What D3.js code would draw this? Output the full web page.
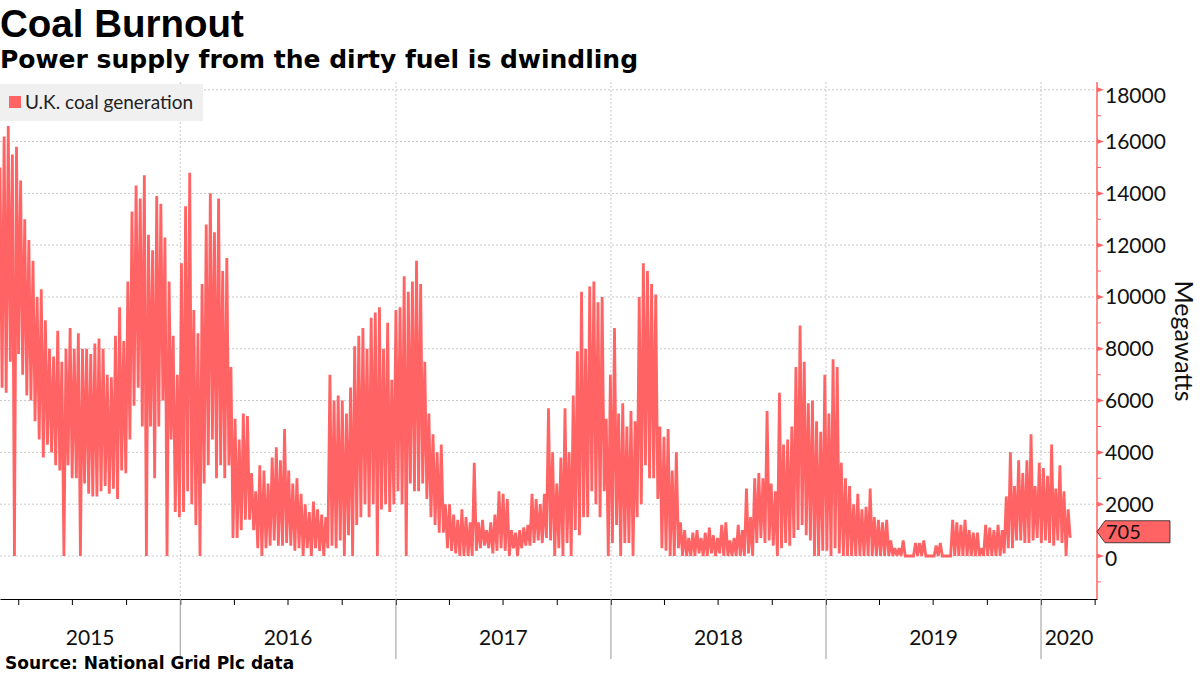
<!DOCTYPE html>
<html>
<head>
<meta charset="utf-8">
<script src="https://cdn.jsdelivr.net/npm/d3@7"></script>
<style>
  body { margin: 0; background: #fff; }
  svg { display: block; }
</style>
</head>
<body>
<svg id="chart" width="1200" height="675"></svg>
<script>
/* Coal Burnout - U.K. coal generation, weekly highs and lows */

// first week of the series, one high and one low per week after that
const startDate = new Date(2015, 2, 1);

const weekHigh = [
  15000, 16200, 16600, 15500, 15800, 14500, 13000, 12200, 11400, 10000,
  10300, 9100, 8000, 7700, 8700, 7500, 8000, 8800, 8000, 8600,
  8000, 8000, 7800, 8200, 8400, 8000, 7000, 6900, 8500, 9600,
  8300, 10600, 13300, 14300, 13800, 14700, 12400, 11800, 13900, 13600,
  12300, 10600, 8500, 7000, 11300, 13500, 14800, 9500, 8600, 10500,
  12800, 14000, 12500, 13800, 11000, 11500, 7300, 5300, 4500, 5500,
  5400, 3200, 2500, 3500, 3300, 2800, 3800, 4200, 3700, 4900,
  3300, 2800, 3000, 2400, 2000, 1700, 2100, 1800, 1600, 1500,
  7000, 6000, 6200, 6000, 5500, 6500, 8100, 8500, 8800, 8000,
  9200, 9400, 9600, 8000, 9000, 6800, 9500, 9600, 10800, 10200,
  10600, 11400, 10500, 7500, 5500, 4700, 4000, 4300, 2000, 2000,
  1600, 1400, 1800, 1500, 1300, 3600, 1300, 1400, 1000, 1300,
  1600, 2500, 2400, 2200, 1000, 900, 1000, 1100, 1200, 2400,
  2200, 2000, 2400, 5700, 4000, 2800, 3800, 5700, 4000, 6200,
  7900, 10200, 8000, 10400, 10600, 9800, 10000, 5300, 7000, 8800,
  5500, 5900, 5000, 5600, 5200, 10000, 11300, 11000, 10500, 10100,
  5000, 4600, 4900, 3300, 4000, 1300, 1000, 700, 900, 1000,
  700, 900, 1100, 800, 700, 1200, 1300, 600, 700, 1200,
  1000, 2600, 1500, 3000, 3200, 3000, 5600, 2800, 2500, 6300,
  4300, 4500, 5000, 7300, 8900, 7500, 5900, 6000, 5200, 4800,
  7000, 5500, 7600, 7300, 3600, 3000, 2700, 2000, 2400, 1800,
  1900, 2600, 1500, 1400, 1300, 1400, 600, 300, 300, 600,
  0, 0, 500, 500, 600, 0, 0, 400, 500, 0,
  0, 1400, 1300, 1200, 1400, 1000, 900, 900, 300, 1200,
  1100, 1000, 1200, 1000, 2300, 4000, 2700, 3700, 3200, 3700,
  4700, 2700, 3600, 3400, 3100, 4300, 2600, 3500, 2500, 1800
];

const weekLow = [
  6500, 6300, 7500, 0, 7800, 7000, 6200, 6000, 5200, 4500,
  3800, 4300, 4000, 3500, 3300, 0, 3500, 3000, 3000, 0,
  2800, 2400, 2300, 2300, 2500, 2700, 2400, 2600, 2200, 3300,
  3200, 4500, 5800, 6500, 5000, 0, 5000, 3000, 5000, 6000,
  0, 4500, 1700, 1500, 1700, 2500, 2000, 1200, 0, 2800,
  3500, 4500, 3000, 3500, 3000, 3500, 700, 700, 1000, 1400,
  1400, 1000, 300, 0, 300, 400, 600, 400, 400, 500,
  400, 200, 300, 0, 300, 0, 300, 200, 0, 300,
  400, 300, 600, 0, 800, 0, 1200, 1500, 2000, 1500,
  2000, 0, 1800, 2000, 1700, 2000, 2500, 2000, 0, 2800,
  2500, 2500, 2800, 2200, 1500, 1200, 900, 900, 300, 200,
  100, 0, 0, 0, 0, 200, 300, 400, 300, 100,
  200, 300, 200, 0, 300, 0, 300, 400, 400, 500,
  600, 500, 700, 600, 0, 300, 0, 500, 0, 1000,
  800, 1500, 1500, 2500, 2000, 1500, 2500, 0, 500, 1200,
  0, 500, 500, 0, 1500, 2000, 3500, 3000, 3000, 2200,
  300, 200, 0, 0, 300, 0, 0, 0, 0, 100,
  0, 0, 100, 0, 100, 0, 0, 0, 0, 0,
  0, 100, 0, 500, 700, 500, 600, 400, 0, 300,
  500, 400, 700, 1000, 1200, 800, 600, 0, 0, 200,
  200, 0, 300, 100, 0, 0, 0, 0, 0, 0,
  0, 0, 0, 0, 0, 0, 0, 0, 0, 0,
  0, 0, 0, 0, 0, 0, 0, 0, 0, 0,
  0, 0, 0, 0, 0, 0, 0, 0, 0, 0,
  0, 0, 0, 100, 300, 300, 600, 600, 500, 500,
  600, 700, 500, 600, 500, 400, 600, 500, 0, 705
];

const yTicks = [0, 2000, 4000, 6000, 8000, 10000, 12000, 14000, 16000, 18000];
const years = [2015, 2016, 2017, 2018, 2019, 2020];
const lastValue = 705;

const RED = '#ff6363';
const plotRight = 1097, plotTop = 82, plotBottom = 599;

const svg = d3.select('#chart');

const x = d3.scaleTime()
  .domain([startDate, new Date(2020, 3, 5)])
  .range([0, plotRight]);
const y = d3.scaleLinear()
  .domain([-1660, 18300])
  .range([plotBottom, plotTop]);

// zig-zag: weekly high, then the low half a week later
const points = [];
weekHigh.forEach((h, i) => {
  const d0 = d3.timeDay.offset(startDate, i * 7);
  points.push({ date: d0, value: h });
  points.push({ date: d3.timeHour.offset(d0, 84), value: weekLow[i] });
});

// Title block
svg.append('text')
  .attr('x', 0).attr('y', 37)
  .attr('font-family', 'Liberation Sans, Arial, sans-serif')
  .attr('font-weight', 'bold').attr('font-size', 38.5)
  .text('Coal Burnout');
svg.append('text')
  .attr('x', 0).attr('y', 68)
  .attr('font-family', 'DejaVu Sans, sans-serif')
  .attr('font-weight', 'bold').attr('font-size', 25)
  .text('Power supply from the dirty fuel is dwindling');

// Grid
svg.append('g').selectAll('line')
  .data(yTicks)
  .join('line')
  .attr('x1', 0).attr('x2', plotRight)
  .attr('y1', d => y(d)).attr('y2', d => y(d))
  .attr('stroke', '#c8c8c8').attr('stroke-dasharray', '2,2');

const yearStarts = years.slice(1).map(yr => new Date(yr, 0, 1));
svg.append('g').selectAll('line')
  .data(yearStarts)
  .join('line')
  .attr('x1', d => x(d)).attr('x2', d => x(d))
  .attr('y1', plotTop).attr('y2', plotBottom)
  .attr('stroke', '#c8c8c8').attr('stroke-dasharray', '2,2');

// Series
const line = d3.line()
  .x(d => x(d.date))
  .y(d => y(d.value));
svg.append('path')
  .datum(points)
  .attr('fill', 'none')
  .attr('stroke', RED)
  .attr('stroke-width', 2.8)
  .attr('stroke-linejoin', 'miter')
  .attr('stroke-miterlimit', 2)
  .attr('d', line);

// Legend
const legend = svg.append('g');
legend.append('rect')
  .attr('x', 0).attr('y', 84).attr('width', 203).attr('height', 37)
  .attr('fill', '#f0f0f0');
legend.append('rect')
  .attr('x', 9).attr('y', 96).attr('width', 12).attr('height', 12)
  .attr('fill', RED);
legend.append('text')
  .attr('x', 25).attr('y', 109)
  .attr('font-family', 'Lato, sans-serif').attr('font-size', 19)
  .attr('fill', '#222')
  .text('U.K. coal generation');

// Bottom axis: quarter ticks
const quarters = d3.timeMonth.every(3).range(startDate, x.domain()[1]);
const xAxis = svg.append('g')
  .attr('transform', `translate(0,${plotBottom})`)
  .call(d3.axisBottom(x).tickValues(quarters).tickSize(6).tickSizeOuter(0).tickFormat(''));
xAxis.select('.domain').attr('stroke', '#000').attr('stroke-width', 1.2);
xAxis.selectAll('.tick line').attr('stroke', '#000');

// year separators and labels
svg.append('g').selectAll('line')
  .data(yearStarts)
  .join('line')
  .attr('x1', d => x(d)).attr('x2', d => x(d))
  .attr('y1', plotBottom).attr('y2', 659)
  .attr('stroke', '#999');

svg.append('g').selectAll('text')
  .data(years)
  .join('text')
  .attr('x', yr => {
    const a = Math.max(x(new Date(yr, 0, 1)), 0);
    const b = Math.min(x(new Date(yr + 1, 0, 1)), plotRight);
    return (a + b) / 2;
  })
  .attr('y', 645)
  .attr('text-anchor', 'middle')
  .attr('font-family', 'Lato, sans-serif').attr('font-size', 21)
  .attr('fill', '#111')
  .text(d => d);

// Right axis
const yAxis = svg.append('g');
yAxis.append('line')
  .attr('x1', plotRight).attr('x2', plotRight)
  .attr('y1', plotTop).attr('y2', plotBottom)
  .attr('stroke', RED).attr('stroke-width', 1.5);

const minorTicks = d3.range(-1000, 18300, 2000);
yAxis.selectAll('.minor')
  .data(minorTicks)
  .join('line')
  .attr('class', 'minor')
  .attr('x1', plotRight).attr('x2', plotRight + 4)
  .attr('y1', d => y(d)).attr('y2', d => y(d))
  .attr('stroke', RED);

yAxis.selectAll('.major')
  .data(yTicks)
  .join('path')
  .attr('class', 'major')
  .attr('transform', d => `translate(${plotRight},${y(d)})`)
  .attr('d', 'M0,-2.5L7,0L0,2.5Z')
  .attr('fill', RED);

yAxis.selectAll('.lbl')
  .data(yTicks)
  .join('text')
  .attr('class', 'lbl')
  .attr('x', plotRight + 8)
  .attr('y', d => y(d) + (d === 18000 ? 6 : d === 0 ? 3 : 0))
  .attr('dy', '0.35em')
  .attr('font-family', 'Lato, sans-serif').attr('font-size', 21)
  .attr('fill', '#111')
  .text(d => d);

svg.append('text')
  .attr('transform', 'translate(1175,341) rotate(90)')
  .attr('text-anchor', 'middle')
  .attr('font-family', 'Lato, sans-serif').attr('font-size', 25)
  .attr('fill', '#111')
  .text('Megawatts');

// last value tag
const ly = y(lastValue) - 6;
const tag = svg.append('g').attr('transform', `translate(${plotRight},${ly})`);
tag.append('path')
  .attr('d', 'M0,0L8,-11L73,-11L73,11L8,11Z')
  .attr('fill', RED).attr('stroke', '#222').attr('stroke-width', 0.8);
tag.append('text')
  .attr('x', 9).attr('dy', '0.36em')
  .attr('font-family', 'Lato, sans-serif').attr('font-size', 20)
  .attr('fill', '#111')
  .text(d3.format('d')(lastValue));

// Source
svg.append('text')
  .attr('x', 5).attr('y', 669)
  .attr('font-family', 'DejaVu Sans, sans-serif')
  .attr('font-weight', 'bold').attr('font-size', 17)
  .text('Source: National Grid Plc data');
</script>
</body>
</html>
